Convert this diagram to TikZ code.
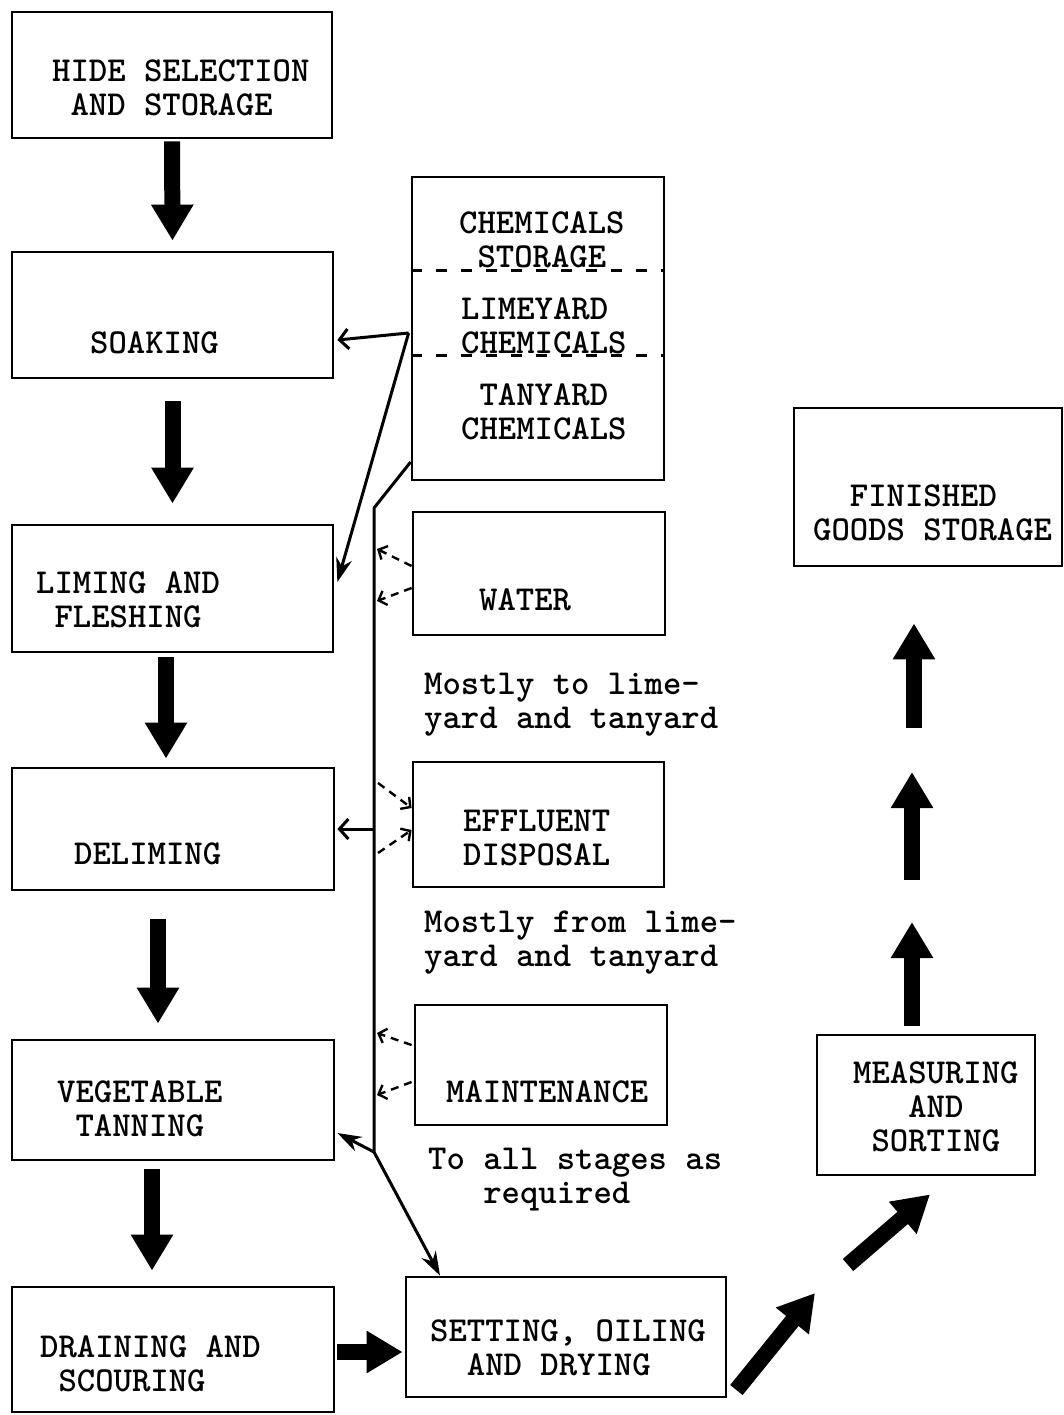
\documentclass[tikz,border=0pt]{standalone}
\usepackage{fontspec}
\usetikzlibrary{arrows.meta}
\newcommand\chsp{\phantom{X}}
\begin{document}
\begin{tikzpicture}[x=1pt,y=-1pt,
  box/.style={draw, line width=2.8pt, inner sep=0pt},
  txt/.style={anchor=base west, inner sep=0pt, align=left, font=\ttfamily\bfseries\fontsize{35}{34}\selectfont},
  fat/.style={line width=16pt, -{Triangle[width=40pt,length=36pt]}},
  conn/.style={line width=3pt},
  barb/.style={conn, -{Straight Barb[length=9pt,width=20pt,line width=3pt]}},
  stl/.style={conn, -{Stealth[length=24pt,width=16pt]}},
  dsh/.style={line width=2.4pt, dash pattern=on 8pt off 6pt, -{Straight Barb[length=7pt,width=15pt,line width=2.4pt]}},
  sep/.style={line width=3pt, dash pattern=on 11pt off 14pt}
]
\useasboundingbox (0,0) rectangle (1064,1415);

% ---- boxes ----
\node[box, minimum width=320pt, minimum height=126pt] (hide) at (172,75) {};
\node[box, minimum width=321pt, minimum height=126pt] (soak) at (172.5,315) {};
\node[box, minimum width=321pt, minimum height=127pt] (lime) at (172.5,588.5) {};
\node[box, minimum width=322pt, minimum height=122pt] (delime) at (173,829) {};
\node[box, minimum width=322pt, minimum height=120pt] (veg) at (173,1100) {};
\node[box, minimum width=322pt, minimum height=125pt] (drain) at (173,1349.5) {};
\node[box, minimum width=252pt, minimum height=303pt] (chem) at (538,328.5) {};
\node[box, minimum width=252pt, minimum height=123pt] (water) at (539,573.5) {};
\node[box, minimum width=251pt, minimum height=125pt] (effl) at (538.5,824.5) {};
\node[box, minimum width=252pt, minimum height=120pt] (maint) at (541,1065) {};
\node[box, minimum width=320pt, minimum height=120pt] (setting) at (566,1337) {};
\node[box, minimum width=268pt, minimum height=158pt] (finished) at (928,487) {};
\node[box, minimum width=218pt, minimum height=140pt] (measure) at (926,1105) {};

% separators in chemicals box
\draw[sep] ([yshift=-95pt]chem.north west) -- ([yshift=-95pt]chem.north east);
\draw[sep] ([yshift=-180pt]chem.north west) -- ([yshift=-180pt]chem.north east);

% ---- texts (anchor = baseline of last line) ----
\node[txt] (thide) at (52,116) {HIDE SELECTION\\\chsp AND STORAGE};
\node[txt] (tsoak) at (90,353) {SOAKING};
\node[txt] (tlime) at (36,627) {LIMING AND\\\chsp FLESHING};
\node[txt] (tdelime) at (74,864) {DELIMING};
\node[txt] (tveg) at (57,1136) {VEGETABLE\\\chsp TANNING};
\node[txt] (tdrain) at (40,1391) {DRAINING AND\\\chsp SCOURING};
\node[txt] (tchem1) at (459,267) {CHEMICALS\\\chsp STORAGE};
\node[txt] (tchem2) at (461,353) {LIMEYARD\\CHEMICALS};
\node[txt] (tchem3) at (461,439) {\chsp TANYARD\\CHEMICALS};
\node[txt] (twater) at (479,610) {WATER};
\node[txt] (teffl) at (463,865) {EFFLUENT\\DISPOSAL};
\node[txt] (tmaint) at (446,1102) {MAINTENANCE};
\node[txt] (tset) at (430,1375) {SETTING, OILING\\\chsp\chsp AND DRYING};
\node[txt] (tfin) at (813,540) {\chsp\chsp FINISHED\\GOODS STORAGE};
\node[txt] (tmeas) at (853,1151) {MEASURING\\\chsp\chsp\chsp AND\\\chsp SORTING};
\node[txt] (nwater) at (424,728) {Mostly to lime-\\yard and tanyard};
\node[txt] (neffl) at (424,966) {Mostly from lime-\\yard and tanyard};
\node[txt] (nmaint) at (428,1203) {To all stages as\\\chsp\chsp\chsp required};

% ---- fat process arrows ----
\draw[fat] ([yshift=-2pt]hide.south) -- ([yshift=10pt]soak.north);
\draw[fat] ([yshift=-22pt]soak.south) -- ([yshift=20pt]lime.north);
\draw[fat] ([xshift=-6.5pt,yshift=-4pt]lime.south) -- ([xshift=-7pt,yshift=8pt]delime.north);
\draw[fat] ([xshift=-15pt,yshift=-28pt]delime.south) -- ([xshift=-15pt,yshift=15pt]veg.north);
\draw[fat] ([xshift=-21pt,yshift=-8pt]veg.south) -- ([xshift=-21pt,yshift=15pt]drain.north);
\draw[fat] ([xshift=2pt,yshift=-2.5pt]drain.east) -- ([xshift=-2pt,yshift=-15pt]setting.west);

\coordinate (d1e) at (815,1293);
\coordinate (d2s) at (848,1265);
\draw[fat] ([xshift=9pt,yshift=-53pt]setting.east) -- (d1e);
\draw[fat] (d2s) -- ([xshift=4pt,yshift=-18pt]measure.south);

\coordinate (u1e) at (912,922);
\coordinate (u2s) at (912,880);
\coordinate (u2e) at (912,772);
\coordinate (u3s) at (914,728);
\draw[fat] ([xshift=-14pt,yshift=8pt]measure.north) -- (u1e);
\draw[fat] (u2s) -- (u2e);
\draw[fat] (u3s) -- ([xshift=-14pt,yshift=-56pt]finished.south);

% ---- distribution lines ----
\coordinate (cj) at ([xshift=-2pt,yshift=-4.5pt]chem.west);
\coordinate (tj) at ([yshift=-133.5pt]chem.west);
\coordinate (tTop) at (374,508);
\coordinate (tBot) at (374,1152);
\draw[barb] (cj) -- ([xshift=3pt,yshift=-25pt]soak.east);
\draw[stl] (cj) -- ([xshift=3pt,yshift=6.5pt]lime.east);
\draw[conn, line join=round] (tj) -- (tTop) -- (tBot);
\draw[barb] (tTop |- delime.east) -- ([xshift=2pt]delime.east);
\draw[stl] (tBot) -- ([xshift=2pt,yshift=-33pt]veg.east);
\draw[stl] (tBot) -- ([xshift=-126pt]setting.north);

% ---- dashed links ----
\coordinate (w1) at (377,549);
\coordinate (w2) at (377,601);
\draw[dsh] ([yshift=7.5pt]water.west) -- (w1);
\draw[dsh] ([yshift=-14.5pt]water.west) -- (w2);
\coordinate (e1) at (378,783);
\coordinate (e2) at (378,853);
\draw[dsh] (e1) -- ([yshift=16.5pt]effl.west);
\draw[dsh] (e2) -- ([yshift=-5.5pt]effl.west);
\coordinate (m1) at (377,1033);
\coordinate (m2) at (377,1095);
\draw[dsh] ([xshift=-2pt,yshift=20pt]maint.west) -- (m1);
\draw[dsh] ([xshift=-2pt,yshift=-17pt]maint.west) -- (m2);
\end{tikzpicture}
\end{document}
